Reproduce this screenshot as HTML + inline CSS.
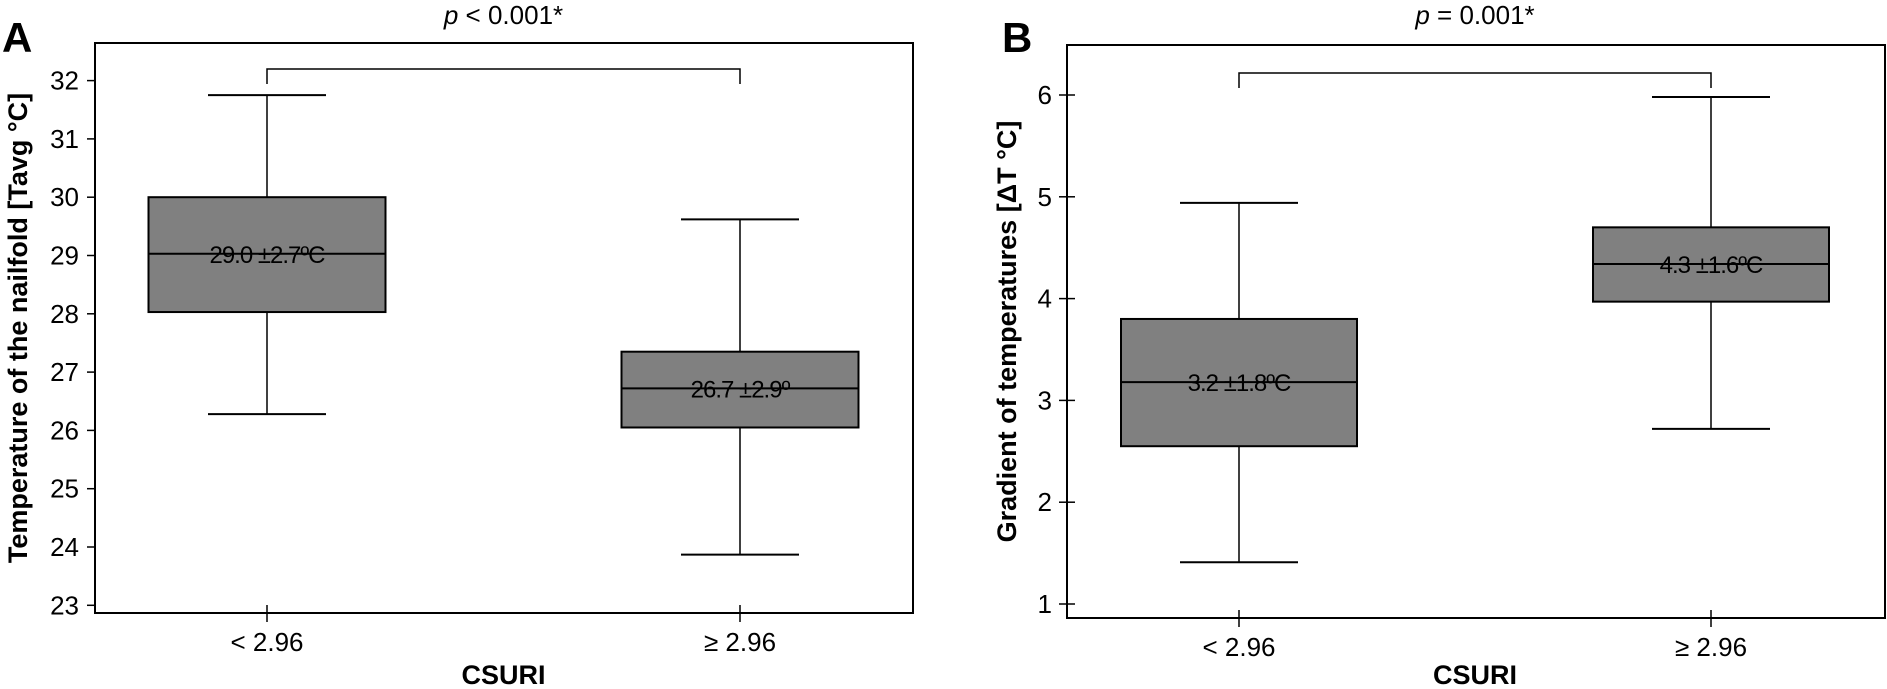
<!DOCTYPE html>
<html><head><meta charset="utf-8"><style>
html,body{margin:0;padding:0;background:#fff;}
svg{display:block;font-family:"Liberation Sans",sans-serif;}
</style></head><body>
<svg id="chart" width="1887" height="689" viewBox="0 0 1887 689" xmlns="http://www.w3.org/2000/svg"></svg>
<script>
const categories = ["< 2.96", "\u2265 2.96"];
const aTicks = [23,24,25,26,27,28,29,30,31,32];
const aWhiskerLow = [26.28, 23.87];
const aQ1 = [28.03, 26.05];
const aMedian = [29.03, 26.72];
const aQ3 = [30.0, 27.35];
const aWhiskerHigh = [31.75, 29.62];
const aLabels = ["29.0 \u00b12.7\u00baC", "26.7 \u00b12.9\u00ba"];
const bTicks = [1,2,3,4,5,6];
const bWhiskerLow = [1.41, 2.72];
const bQ1 = [2.55, 3.97];
const bMedian = [3.18, 4.34];
const bQ3 = [3.80, 4.70];
const bWhiskerHigh = [4.94, 5.98];
const bLabels = ["3.2 \u00b11.8\u00baC", "4.3 \u00b11.6\u00baC"];

const NS = "http://www.w3.org/2000/svg";
const svg = document.getElementById("chart");
function el(tag, attrs, parent, text){
  const e = document.createElementNS(NS, tag);
  for (const k in attrs) e.setAttribute(k, attrs[k]);
  if (text !== undefined) e.textContent = text;
  (parent || svg).appendChild(e);
  return e;
}
function panel(cfg){
  const g = el("g", {});
  
  
  const y = v => cfg.y0 + (v - cfg.v0) * (cfg.y1 - cfg.y0) / (cfg.v1 - cfg.v0);
  const x = i => cfg.cx[i];
  const frame = el("rect", {x:cfg.left, y:cfg.top, width:cfg.right-cfg.left, height:cfg.bottom-cfg.top, fill:"none", stroke:"#000", "stroke-width":2}, g);
  
  
  cfg.ticks.forEach(t => {
    const ln = el("line", {x1:cfg.left-8, x2:cfg.left+cfg.tickIn, y1:y(t), y2:y(t), stroke:"#000", "stroke-width":1.5}, g);
    
    
    const tx = el("text", {x:cfg.left-cfg.labelGap, y:y(t)+9, "text-anchor":"end", "font-size":26}, g, String(t));
    
    
  });
  categories.forEach((c, i) => {
    const ln = el("line", {x1:x(i), x2:x(i), y1:cfg.bottom-8, y2:cfg.bottom+9, stroke:"#000", "stroke-width":1.5}, g);
    
    
    const tx = el("text", {x:x(i), y:cfg.bottom+38, "text-anchor":"middle", "font-size":26}, g, c);
    
    
    const bw = cfg.boxW/2, cw = 59;
    const wk = el("line", {x1:x(i), x2:x(i), y1:y(cfg.wl[i]), y2:y(cfg.wh[i]), stroke:"#000", "stroke-width":1.5}, g);
    
    
    [cfg.wl[i], cfg.wh[i]].forEach(v => {
      const cap = el("line", {x1:x(i)-cw, x2:x(i)+cw, y1:y(v), y2:y(v), stroke:"#000", "stroke-width":2}, g);
      
      
    });
    const box = el("rect", {x:x(i)-bw, y:y(cfg.q3[i]), width:cfg.boxW, height:y(cfg.q1[i])-y(cfg.q3[i]), fill:"#808080", stroke:"#000", "stroke-width":2}, g);
    
    
    const md = el("line", {x1:x(i)-bw, x2:x(i)+bw, y1:y(cfg.med[i]), y2:y(cfg.med[i]), stroke:"#000", "stroke-width":2}, g);
    
    
    const lb = el("text", {x:x(i), y:y(cfg.med[i])+9, "text-anchor":"middle", "font-size":24, "letter-spacing":"-1"}, g, cfg.labels[i]);
    
    
  });
  const br = el("path", {d:`M${x(0)},${cfg.brY+15} V${cfg.brY} H${x(1)} V${cfg.brY+15}`, fill:"none", stroke:"#000", "stroke-width":1.5}, g);
  
  
  const pt = el("text", {x:(x(0)+x(1))/2, y:24, "text-anchor":"middle", "font-size":26}, g);
  
  
  el("tspan", {"font-style":"italic"}, pt, "p");
  el("tspan", {}, pt, cfg.pText);
  const yl = el("text", {transform:`translate(${cfg.ylx},${(cfg.top+cfg.bottom)/2}) rotate(-90)`, "text-anchor":"middle", "font-size":27, "font-weight":"bold"}, g, cfg.ylabel);
  
  
  const xl = el("text", {x:(x(0)+x(1))/2, y:684, "text-anchor":"middle", "font-size":27, "font-weight":"bold"}, g, "CSURI");
  
  
  const pl = el("text", {x:cfg.letterX, y:52, "font-size":42, "font-weight":"bold"}, g, cfg.letter);
  
  
}
panel({name:"panel-a", left:95, right:913, top:43, bottom:613, v0:32, y0:80.6, v1:23, y1:605.3,
  cx:[267,740], boxW:237, ticks:aTicks, tickIn:0, labelGap:16, wl:aWhiskerLow, q1:aQ1, med:aMedian, q3:aQ3, wh:aWhiskerHigh,
  labels:aLabels, brY:69, pText:" < 0.001*", ylabel:"Temperature of the nailfold [Tavg \u00b0C]", ylx:27, letter:"A", letterX:2});
panel({name:"panel-b", left:1067, right:1885, top:45, bottom:618, v0:6, y0:95, v1:1, y1:604,
  cx:[1239,1711], boxW:236, ticks:bTicks, tickIn:8, labelGap:15, wl:bWhiskerLow, q1:bQ1, med:bMedian, q3:bQ3, wh:bWhiskerHigh,
  labels:bLabels, brY:73, pText:" = 0.001*", ylabel:"Gradient of temperatures [\u0394T \u00b0C]", ylx:1016, letter:"B", letterX:1002});
</script>
</body></html>
